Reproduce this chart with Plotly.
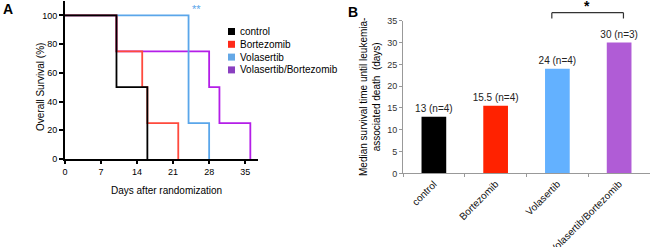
import plotly.graph_objects as go

# ---- Panel A data (Kaplan-Meier steps) ----
km_groups = ["control", "Bortezomib", "Volasertib", "Volasertib/Bortezomib"]
control_t = [0, 10, 16]
control_s = [100, 50, 0]
bort_t = [0, 10, 15, 16, 22]
bort_s = [100, 75, 50, 25, 0]
vola_t = [0, 24, 28]
vola_s = [100, 25, 0]
combo_t = [0, 10, 28, 30, 36]
combo_s = [100, 75, 50, 25, 0]
x_ticks_a = [0, 7, 14, 21, 28, 35]
y_ticks_a = [0, 20, 40, 60, 80, 100]

# ---- Panel B data (median survival) ----
bar_cats = ["control", "Bortezomib", "Volasertib", "Volasertib/Bortezomib"]
bar_vals = [13, 15.5, 24, 30]
bar_labels = ["13 (n=4)", "15.5 (n=4)", "24 (n=4)", "30 (n=3)"]

line_colors = ["#000000", "#ff4a3d", "#5aa6ea", "#b41ee8"]
legend_colors = ["#000000", "#ff2a1a", "#64a8e6", "#8a3fc0"]
bar_colors = ["#000000", "#ff2200", "#63b1ff", "#b05cd6"]

FONT = "Liberation Sans, Arial, sans-serif"
W, H = 650, 247

fig = go.Figure()

series = [(combo_t, combo_s, 3), (vola_t, vola_s, 2), (bort_t, bort_s, 1), (control_t, control_s, 0)]
for t, s, i in series:
    fig.add_trace(go.Scatter(x=t, y=s, mode="lines", name=km_groups[i],
                             line=dict(shape="hv", color=line_colors[i], width=1.8),
                             showlegend=False, xaxis="x", yaxis="y", hoverinfo="skip"))

fig.add_trace(go.Bar(x=bar_cats, y=bar_vals, marker=dict(color=bar_colors, line=dict(width=0)),
                     width=0.4, text=bar_labels, textposition="outside", cliponaxis=False,
                     constraintext="none",
                     textfont=dict(size=10, color="#222222", family=FONT),
                     showlegend=False, xaxis="x2", yaxis="y2"))

fig.update_layout(
    template="none",
    width=W, height=H,
    margin=dict(l=0, r=0, t=0, b=0, autoexpand=False),
    paper_bgcolor="white", plot_bgcolor="white",
    font=dict(family=FONT, size=9, color="#000"),
    xaxis=dict(domain=[0.1, 0.397], range=[0, 37.5], tickvals=x_ticks_a, showgrid=False, zeroline=False,
               anchor="y", automargin=False, showline=True, linecolor="black", linewidth=2,
               ticks="outside", ticklen=3, tickwidth=1.5, tickcolor="black", tickfont=dict(size=9)),
    yaxis=dict(domain=[0.356, 0.996], range=[0, 110], tickvals=y_ticks_a, showgrid=False, zeroline=False,
               anchor="x", automargin=False, showline=True, linecolor="black", linewidth=2,
               ticks="outside", ticklen=4, tickwidth=1.5, tickcolor="black", tickfont=dict(size=9)),
    xaxis2=dict(domain=[0.62, 1.0], range=[-0.5, 3.5], showgrid=False, zeroline=False, anchor="y2",
                automargin=False, showline=True, linecolor="#999", linewidth=1, ticks="outside", ticklen=3,
                tickcolor="#999", tickson="boundaries", tickangle=-45, tickfont=dict(size=10, color="#111")),
    yaxis2=dict(domain=[0.298, 0.916], range=[0, 35], dtick=5, showgrid=False, zeroline=False, anchor="x2",
                automargin=False, showline=True, linecolor="#999", linewidth=1, ticks="outside", ticklen=3,
                tickcolor="#999", tickfont=dict(size=9, color="#333")),
    showlegend=False,
)

annotations = [
    dict(text="<b>A</b>", x=8, y=9, font=dict(size=14)),
    dict(text="<b>B</b>", x=353, y=12, font=dict(size=14)),
    dict(text="Overall Survival (%)", x=40, y=87, textangle=-90, font=dict(size=10)),
    dict(text="Days after randomization", x=166, y=190, font=dict(size=10)),
    dict(text="Median survival time until leukemia-<br>associated death  (days)", x=370, y=97, textangle=-90,
         font=dict(size=10)),
    dict(text="**", x=196, y=9, font=dict(size=11, color="#5aa6ea")),
    dict(text="<b>*</b>", x=587, y=6, font=dict(size=14)),
]
for a in annotations:
    fig.add_annotation(text=a["text"], x=a["x"] / W, y=1 - a["y"] / H, xref="paper", yref="paper",
                       showarrow=False, textangle=a.get("textangle", 0), font=dict(family=FONT, **a["font"]),
                       xanchor="center", yanchor="middle")

# legend for panel A (colour squares + labels)
leg_x, leg_y0, leg_dy, sq = 228, 31.5, 12.8, 7
for i, g in enumerate(km_groups):
    yc = leg_y0 + i * leg_dy
    fig.add_shape(type="rect", xref="paper", yref="paper", x0=leg_x / W, x1=(leg_x + sq) / W,
                  y0=1 - (yc - sq / 2) / H, y1=1 - (yc + sq / 2) / H,
                  fillcolor=legend_colors[i], line=dict(width=0))
    fig.add_annotation(text=g, x=(leg_x + sq + 3) / W, y=1 - yc / H, xref="paper", yref="paper",
                       showarrow=False, xanchor="left", yanchor="middle", font=dict(family=FONT, size=10))

# significance bracket in panel B (x in category units, y in paper units)
yb_top, yb_bot = 1 - 12.7 / H, 1 - 18.5 / H
br = dict(xref="x2", yref="paper", line=dict(color="#333", width=1.2))
fig.add_shape(type="line", x0=1.91, x1=3.07, y0=yb_top, y1=yb_top, **br)
fig.add_shape(type="line", x0=1.91, x1=1.91, y0=yb_top, y1=yb_bot, **br)
fig.add_shape(type="line", x0=3.07, x1=3.07, y0=yb_top, y1=yb_bot, **br)

fig.write_html("out.html", config={"displayModeBar": False},
               post_script="document.body.style.margin='0';document.body.style.overflow='hidden';")
